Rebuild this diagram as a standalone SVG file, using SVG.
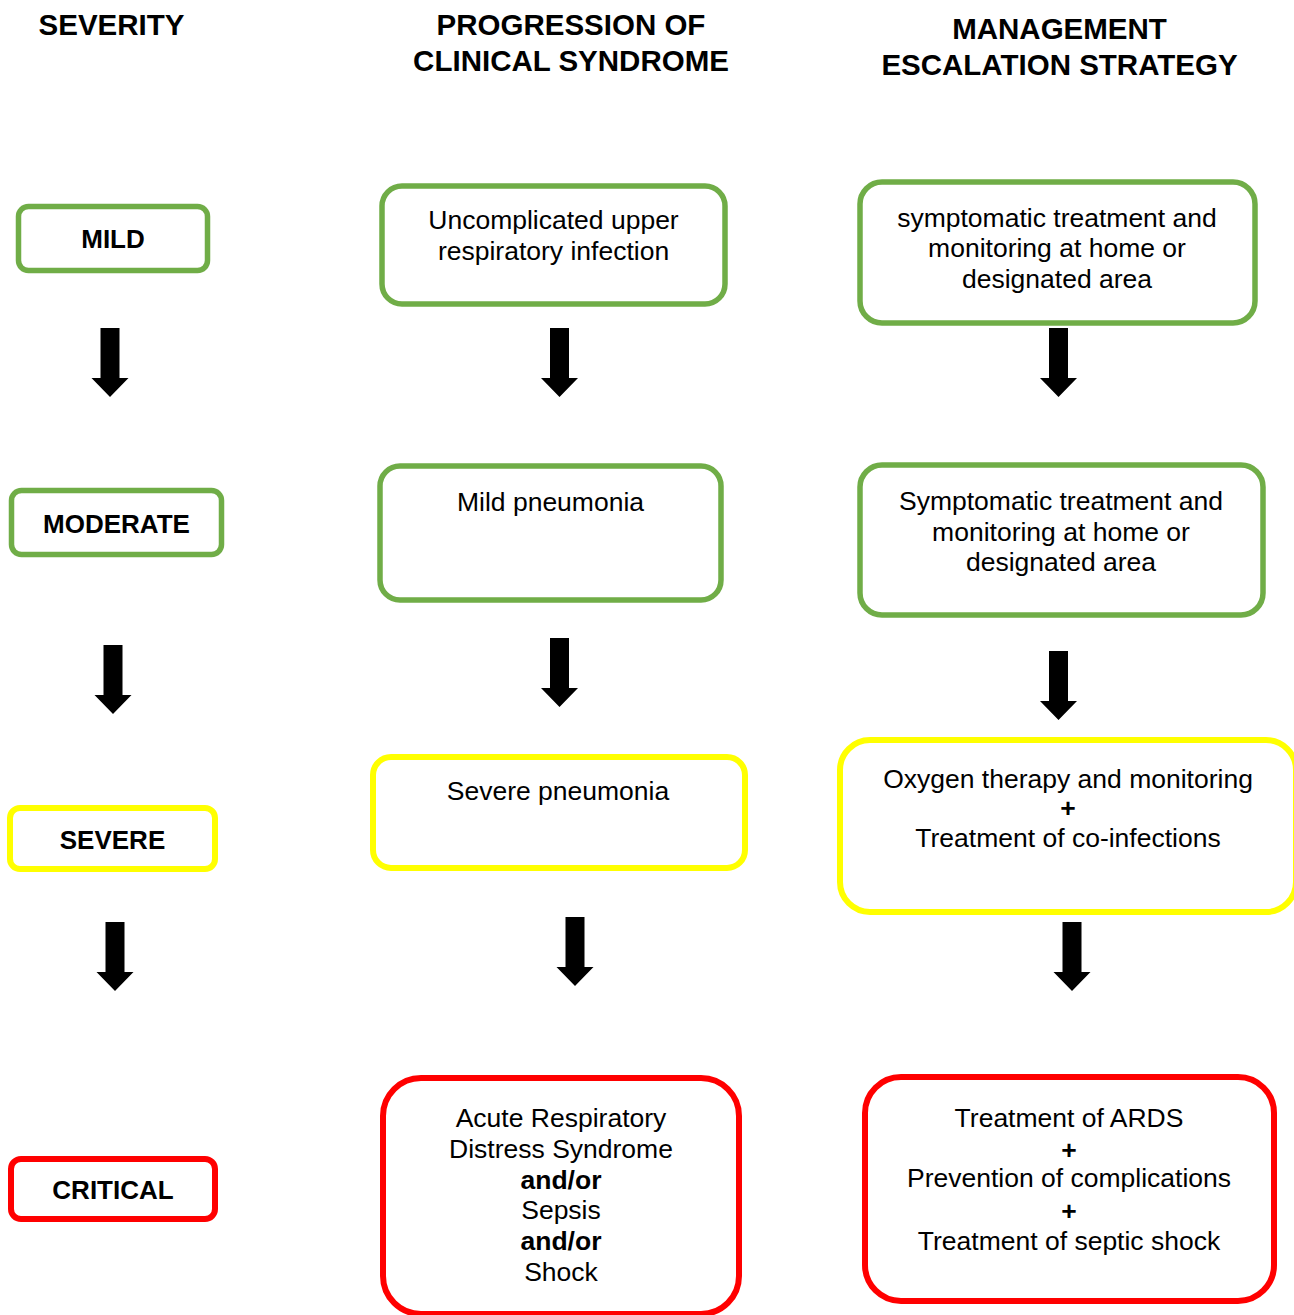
<svg xmlns="http://www.w3.org/2000/svg" xmlns:xlink="http://www.w3.org/1999/xlink" width="1294" height="1315" viewBox="0 0 1294 1315">
<style>
.hdr{font-family:"Liberation Sans",Arial,sans-serif;font-weight:bold;font-size:29.5px;fill:#000;text-anchor:middle}
.lbl{font-family:"Liberation Sans",Arial,sans-serif;font-weight:bold;font-size:26px;fill:#000;text-anchor:middle}
.txt{font-family:"Liberation Sans",Arial,sans-serif;font-size:26.5px;fill:#000;text-anchor:middle}
.b{font-weight:bold}
.g{fill:#fff;stroke:#70AD47;stroke-width:5.5}
.y{fill:#fff;stroke:#FFFF00;stroke-width:6}
.r{fill:#fff;stroke:#FF0000;stroke-width:6}
.arr{fill:#000}
</style>
<defs>
<path id="arrow" class="arr" d="M-9.5 0 H9.5 V50 H18.5 L0 69 L-18.5 50 H-9.5 Z"/>
</defs>
<rect width="1294" height="1315" fill="#fff"/>
<g id="headers">
<text class="hdr" x="111.5" y="35">SEVERITY</text>
<text class="hdr" x="571" y="35">PROGRESSION OF</text>
<text class="hdr" x="571" y="71">CLINICAL SYNDROME</text>
<text class="hdr" x="1059.5" y="39">MANAGEMENT</text>
<text class="hdr" x="1059.5" y="75">ESCALATION STRATEGY</text>
</g>
<g id="connectors">
<use xlink:href="#arrow" x="110" y="328"/>
<use xlink:href="#arrow" x="113" y="645"/>
<use xlink:href="#arrow" x="115" y="922"/>
<use xlink:href="#arrow" x="559.5" y="328"/>
<use xlink:href="#arrow" x="559.5" y="638"/>
<use xlink:href="#arrow" x="575" y="917"/>
<use xlink:href="#arrow" x="1058.5" y="328"/>
<use xlink:href="#arrow" x="1058.5" y="651"/>
<use xlink:href="#arrow" x="1072" y="922"/>
</g>
<g id="sev-mild">
<rect class="g" x="18.5" y="206.5" width="189" height="64" rx="10"/>
<text class="lbl" x="113" y="248">MILD</text>
</g>
<g id="sev-moderate">
<rect class="g" x="11.5" y="490.5" width="210" height="64" rx="10"/>
<text class="lbl" x="116.5" y="533">MODERATE</text>
</g>
<g id="sev-severe">
<rect class="y" x="10" y="808" width="205" height="61" rx="10"/>
<text class="lbl" x="112.5" y="849">SEVERE</text>
</g>
<g id="sev-critical">
<rect class="r" x="11" y="1159" width="204" height="60" rx="10"/>
<text class="lbl" x="113" y="1199">CRITICAL</text>
</g>
<g id="prog-uri">
<rect class="g" x="382" y="186" width="343" height="118" rx="20"/>
<text class="txt" x="553.5" y="229">Uncomplicated upper</text>
<text class="txt" x="553.5" y="260">respiratory infection</text>
</g>
<g id="prog-mild-pneumonia">
<rect class="g" x="380" y="466" width="341" height="134" rx="20"/>
<text class="txt" x="550.5" y="511">Mild pneumonia</text>
</g>
<g id="prog-severe-pneumonia">
<rect class="y" x="373" y="757" width="372" height="111" rx="18"/>
<text class="txt" x="558" y="800">Severe pneumonia</text>
</g>
<g id="prog-critical">
<rect class="r" x="383" y="1078" width="356" height="236" rx="38"/>
<text class="txt" x="561" y="1127">Acute Respiratory</text>
<text class="txt" x="561" y="1157.5">Distress Syndrome</text>
<text class="txt b" x="561" y="1188.5">and/or</text>
<text class="txt" x="561" y="1219">Sepsis</text>
<text class="txt b" x="561" y="1250">and/or</text>
<text class="txt" x="561" y="1280.5">Shock</text>
</g>
<g id="mgmt-mild">
<rect class="g" x="860" y="182" width="395" height="141" rx="22"/>
<text class="txt" x="1057" y="226.5">symptomatic treatment and</text>
<text class="txt" x="1057" y="257">monitoring at home or</text>
<text class="txt" x="1057" y="287.5">designated area</text>
</g>
<g id="mgmt-moderate">
<rect class="g" x="860" y="465" width="403" height="150" rx="22"/>
<text class="txt" x="1061" y="510">Symptomatic treatment and</text>
<text class="txt" x="1061" y="540.5">monitoring at home or</text>
<text class="txt" x="1061" y="571">designated area</text>
</g>
<g id="mgmt-severe">
<rect class="y" x="840" y="740" width="456" height="172" rx="30"/>
<text class="txt" x="1068" y="787.5">Oxygen therapy and monitoring</text>
<text class="txt b" x="1068" y="816.5">+</text>
<text class="txt" x="1068" y="847">Treatment of co-infections</text>
</g>
<g id="mgmt-critical">
<rect class="r" x="865" y="1077" width="409" height="224" rx="36"/>
<text class="txt" x="1069" y="1127">Treatment of ARDS</text>
<text class="txt b" x="1069" y="1158.5">+</text>
<text class="txt" x="1069" y="1187">Prevention of complications</text>
<text class="txt b" x="1069" y="1219.5">+</text>
<text class="txt" x="1069" y="1250">Treatment of septic shock</text>
</g>
</svg>
